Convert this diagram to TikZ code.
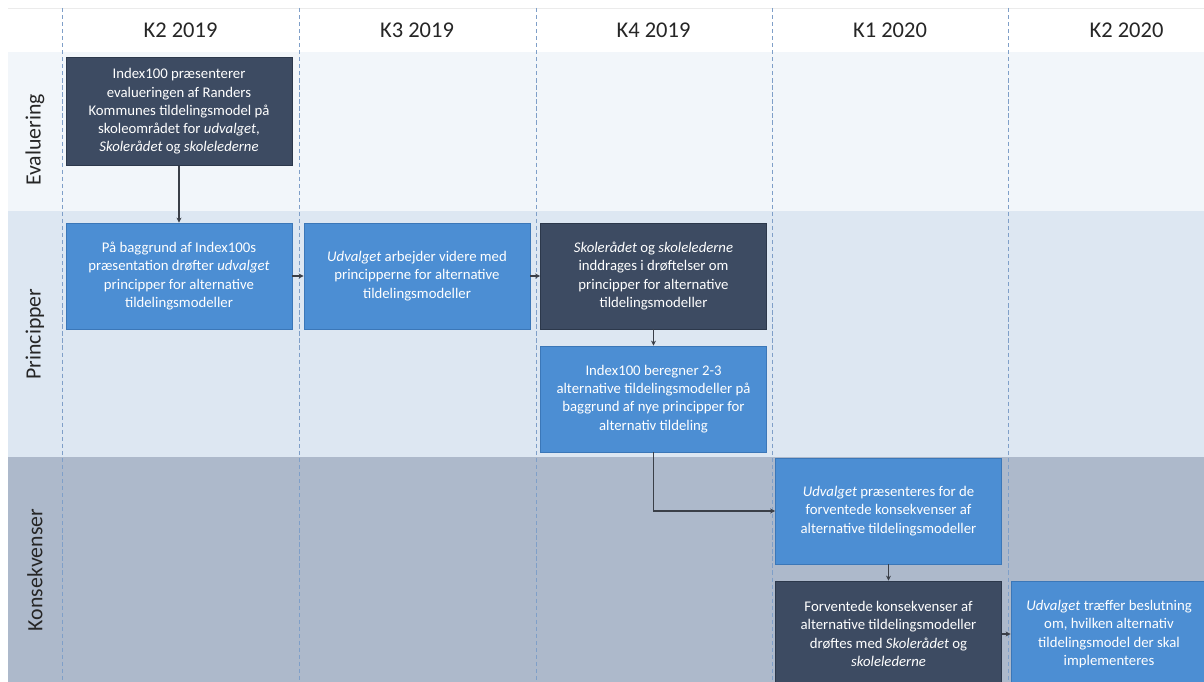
\documentclass[tikz,border=0pt]{standalone}
\usepackage{fontspec}
\setmainfont{Carlito}
\usetikzlibrary{arrows.meta}
\definecolor{boxdark}{HTML}{3D4B62}
\definecolor{boxdarkline}{HTML}{2C384B}
\definecolor{boxblue}{HTML}{4C8ED3}
\definecolor{boxblueline}{HTML}{3B77B8}
\definecolor{bandeval}{HTML}{F2F6FA}
\definecolor{bandprin}{HTML}{DDE7F2}
\definecolor{bandkons}{HTML}{ADB9CB}
\definecolor{gridline}{HTML}{7F9FC8}
\definecolor{flowline}{HTML}{3A3F48}
\definecolor{lanetext}{HTML}{262626}

\begin{document}
\begin{tikzpicture}[x=0.025cm, y=-0.025cm,
  task/.style={draw, line width=0.6pt, text=white, align=center, minimum width=5.65cm, minimum height=2.65cm, inner sep=2pt, font=\fontsize{10.5}{13}\selectfont},
  darktask/.style={task, fill=boxdark, draw=boxdarkline},
  bluetask/.style={task, fill=boxblue, draw=boxblueline},
  flow/.style={-{Stealth[length=3.5pt,width=3.5pt]}, line width=0.8pt, draw=flowline},
  lane/.style={rotate=90, font=\fontsize{15.5}{18}\selectfont, text=lanetext},
  quarter/.style={font=\fontsize{16}{19}\selectfont, text=lanetext}]
  \useasboundingbox (0,0) rectangle (1204,682);
  \fill[white] (0,0) rectangle (1204,682);
  \fill[bandeval] (8,52) rectangle (1204,211);
  \fill[bandprin] (8,211) rectangle (1204,457);
  \fill[bandkons] (8,457) rectangle (1204,682);
  \draw[black!8] (8,8) -- (1204,8);
  \foreach \x in {62,299,536,772,1008}
    \draw[gridline, line width=0.7pt, dash pattern=on 3pt off 2pt] (\x,8) -- (\x,682);

  \foreach \lbl [count=\i] in {K2 2019, K3 2019, K4 2019, K1 2020, K2 2020}
    \node[quarter] (q\i) at ({180.5+(\i-1)*236.5},30) {\lbl};

  \node[lane] (evlane) at (35,140) {Evaluering};
  \node[lane] (prlane) at (35,334) {Principper};
  \node[lane] (kolane) at (35,570) {Konsekvenser};

  \node[darktask, minimum height=2.68cm] (ev) at (179,111.5) {Index100 præsenterer\\evalueringen af Randers\\Kommunes tildelingsmodel på\\skoleområdet for \textit{udvalget},\\\textit{Skolerådet} og \textit{skolelederne}};
  \node[bluetask] (pr1) at (179,276) {På baggrund af Index100s\\præsentation drøfter \textit{udvalget}\\principper for alternative\\tildelingsmodeller};
  \node[bluetask] (pr2) at (417,276) {\textit{Udvalget} arbejder videre med\\principperne for alternative\\tildelingsmodeller};
  \node[darktask] (pr3) at (653.5,276) {\textit{Skolerådet} og \textit{skolelederne}\\inddrages i drøftelser om\\principper for alternative\\tildelingsmodeller};
  \node[bluetask] (pr4) at (653.5,399) {Index100 beregner 2-3\\alternative tildelingsmodeller på\\baggrund af nye principper for\\alternativ tildeling};
  \node[bluetask] (ko1) at (888.5,511) {\textit{Udvalget} præsenteres for de\\forventede konsekvenser af\\alternative tildelingsmodeller};
  \node[darktask] (ko2) at (888.5,634) {Forventede konsekvenser af\\alternative tildelingsmodeller\\drøftes med \textit{Skolerådet} og\\\textit{skolelederne}};
  \node[bluetask, minimum width=4.9cm] (ko3) at (1109,634) {\textit{Udvalget} træffer beslutning\\om, hvilken alternativ\\tildelingsmodel der skal\\implementeres};

  \draw[flow] (ev.south) -- (pr1.north);
  \draw[flow] (pr1.east) -- (pr2.west);
  \draw[flow] (pr2.east) -- (pr3.west);
  \draw[flow] (pr3.south) -- (pr4.north);
  \draw[flow] (pr4.south) |- (ko1.west);
  \draw[flow] (ko1.south) -- (ko2.north);
  \draw[flow] (ko2.east) -- (ko3.west);
\end{tikzpicture}
\end{document}
